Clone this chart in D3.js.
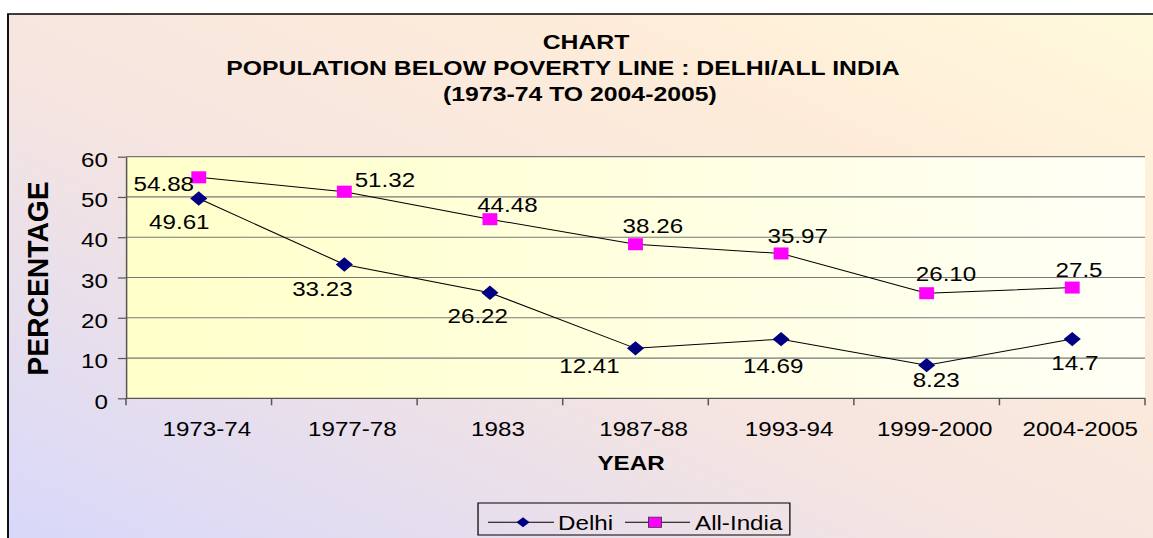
<!DOCTYPE html>
<html>
<head>
<meta charset="utf-8">
<style>
    body { margin: 0; background: #fff; }
    svg { display: block; }
    text { font-family: "Liberation Sans", Arial, sans-serif; fill: #000; }
    .title { font-size: 20px; font-weight: bold; text-anchor: middle; }
    .tick-label { font-size: 19.5px; }
    .data-label { font-size: 19.5px; text-anchor: middle; }
    .grid { stroke: #777; stroke-width: 1.2; }
    .axis-line { stroke: #555; stroke-width: 1.2; fill: none; }
    .series-line { fill: none; stroke: #000; stroke-width: 1; }
</style>
</head>
<body>
<script src="https://d3js.org/d3.v7.min.js"></script>
<div class="chart"></div>
<script>
// data
var years = ["1973-74", "1977-78", "1983", "1987-88", "1993-94", "1999-2000", "2004-2005"];
var delhi = [49.61, 33.23, 26.22, 12.41, 14.69, 8.23, 14.7];
var allIndia = [54.88, 51.32, 44.48, 38.26, 35.97, 26.10, 27.5];
var delhiText = ["49.61", "33.23", "26.22", "12.41", "14.69", "8.23", "14.7"];
var allIndiaText = ["54.88", "51.32", "44.48", "38.26", "35.97", "26.10", "27.5"];
var yTicks = [0, 10, 20, 30, 40, 50, 60];
var titleLines = ["CHART", "POPULATION BELOW POVERTY LINE : DELHI/ALL INDIA", "(1973-74 TO 2004-2005)"];

// where the hand-placed data labels sit relative to their markers
var delhiLabelShift = [[-15.7, 23.5], [-17.7, 24.5], [-9.8, 23.1], [-37.1, 17.5], [-6.4, 26.7], [7.7, 15], [2.1, 24.2]];
var allIndiaLabelShift = [[-28.2, 6.5], [32.7, -12], [14.1, -14], [14, -18], [13.4, -17.6], [15.6, -19], [5.5, -17.6]];

// the original picture is stretched sideways, so draw in narrower units and stretch
var sx = 1.24,
    outW = 1153, outH = 538,
    W = outW / sx;

var plot = {left: 101.6, right: 923.4, top: 156.7, bottom: 398.3};

var svg = d3.select(".chart").append("svg")
    .attr("width", outW)
    .attr("height", outH)
    .attr("viewBox", "0 0 " + W + " " + outH)
    .attr("preserveAspectRatio", "none");

var defs = svg.append("defs");
var bg = defs.append("linearGradient").attr("id", "bg")
    .attr("x1", 0).attr("y1", 1).attr("x2", 1).attr("y2", 0);
bg.append("stop").attr("offset", 0).attr("stop-color", "#d8d8fa");
bg.append("stop").attr("offset", 0.45).attr("stop-color", "#f6e5e0");
bg.append("stop").attr("offset", 0.75).attr("stop-color", "#feecd9");
bg.append("stop").attr("offset", 1).attr("stop-color", "#fffadc");

var pg = defs.append("linearGradient").attr("id", "plotbg")
    .attr("x1", 0).attr("y1", 0).attr("x2", 1).attr("y2", 0);
pg.append("stop").attr("offset", 0).attr("stop-color", "#ffffc9");
pg.append("stop").attr("offset", 1).attr("stop-color", "#fffff6");

// chart background + frame
var frameX = 6.45, frameY = 14;
svg.append("rect")
    .attr("x", frameX).attr("y", frameY)
    .attr("width", W - frameX).attr("height", outH - frameY)
    .attr("fill", "url(#bg)");
svg.append("path")
    .attr("d", "M" + frameX + "," + outH + "V" + frameY + "H" + W)
    .attr("fill", "none").attr("stroke", "#000").attr("stroke-width", 1.5);

var x = d3.scaleBand().domain(years).range([plot.left, plot.right]);
var y = d3.scaleLinear().domain([0, 60]).range([plot.bottom, plot.top]);

svg.append("rect")
    .attr("x", plot.left).attr("y", plot.top)
    .attr("width", plot.right - plot.left).attr("height", plot.bottom - plot.top)
    .attr("fill", "url(#plotbg)");

// gridlines
svg.selectAll(".grid")
    .data(yTicks.filter(function(d) { return d > 0; }))
    .enter().append("line")
    .attr("class", "grid")
    .attr("x1", plot.left).attr("x2", plot.right)
    .attr("y1", function(d) { return y(d); })
    .attr("y2", function(d) { return y(d); });

// y axis
var yAxis = svg.append("g")
    .attr("transform", "translate(" + plot.left + ",0)")
    .call(d3.axisLeft(y).tickValues(yTicks).tickSize(6.5).tickSizeOuter(0).tickPadding(8));
yAxis.select(".domain").attr("class", "axis-line");
yAxis.selectAll(".tick line").attr("stroke", "#555").attr("stroke-width", 1.2);
yAxis.selectAll(".tick text")
    .attr("class", "tick-label")
    .attr("font-family", null).attr("font-size", null)
    .attr("dy", "0.5em");

// x axis: ticks sit between categories
var bounds = d3.range(years.length + 1).map(function(i) { return plot.left + i * x.step(); });
svg.append("line")
    .attr("class", "axis-line")
    .attr("x1", plot.left).attr("x2", plot.right)
    .attr("y1", plot.bottom).attr("y2", plot.bottom);
svg.selectAll(".xtick")
    .data(bounds)
    .enter().append("line")
    .attr("class", "axis-line")
    .attr("x1", function(d) { return d; }).attr("x2", function(d) { return d; })
    .attr("y1", plot.bottom).attr("y2", plot.bottom + 7);
svg.selectAll(".xlabel")
    .data(years)
    .enter().append("text")
    .attr("class", "tick-label")
    .attr("text-anchor", "middle")
    .attr("x", function(d) { return x(d) + x.bandwidth() / 2 + 6.5; })
    .attr("y", 436)
    .text(function(d) { return d; });

// series lines
var line = d3.line()
    .x(function(d, i) { return x(years[i]) + x.bandwidth() / 2; })
    .y(function(d) { return y(d); });

svg.append("path").datum(allIndia).attr("class", "series-line").attr("d", line);
svg.append("path").datum(delhi).attr("class", "series-line").attr("d", line);

var diamond = "M0,-7.2L6.9,0L0,7.2L-6.9,0Z";

svg.selectAll(".sq")
    .data(allIndia)
    .enter().append("rect")
    .attr("x", function(d, i) { return x(years[i]) + x.bandwidth() / 2 - 6; })
    .attr("y", function(d) { return y(d) - 6; })
    .attr("width", 12).attr("height", 12)
    .attr("fill", "#ff00ff");

svg.selectAll(".dm")
    .data(delhi)
    .enter().append("path")
    .attr("d", diamond)
    .attr("transform", function(d, i) {
        return "translate(" + (x(years[i]) + x.bandwidth() / 2) + "," + y(d) + ")";
    })
    .attr("fill", "#000080");

// data labels
function labels(values, texts, shift) {
    svg.append("g").selectAll("text")
        .data(values)
        .enter().append("text")
        .attr("class", "data-label")
        .attr("x", function(d, i) { return x(years[i]) + x.bandwidth() / 2 + shift[i][0]; })
        .attr("y", function(d, i) { return y(d) + shift[i][1]; })
        .attr("dy", "0.36em")
        .text(function(d, i) { return texts[i]; });
}
labels(allIndia, allIndiaText, allIndiaLabelShift);
labels(delhi, delhiText, delhiLabelShift);

// titles
var titleX = [472.6, 454, 467.7], titleY = [49, 75, 101];
svg.selectAll(".title")
    .data(titleLines)
    .enter().append("text")
    .attr("class", "title")
    .attr("x", function(d, i) { return titleX[i]; })
    .attr("y", function(d, i) { return titleY[i]; })
    .text(function(d) { return d; });

svg.append("text")
    .attr("class", "title")
    .style("font-size", "19.5px")
    .attr("x", 508.9).attr("y", 470)
    .text("YEAR");

svg.append("text")
    .attr("class", "title")
    .style("font-size", "23.6px")
    .attr("transform", "translate(30.2,278.5) rotate(-90) scale(1.2,1)")
    .attr("dy", "0.36em")
    .text("PERCENTAGE");

// legend
var leg = svg.append("g");
leg.append("rect")
    .attr("x", 385.5).attr("y", 503).attr("width", 251.5).attr("height", 32)
    .attr("fill", "none").attr("stroke", "#000").attr("stroke-width", 1);
leg.append("line").attr("class", "series-line")
    .attr("x1", 393.5).attr("x2", 446.8).attr("y1", 522.3).attr("y2", 522.3);
leg.append("path").attr("d", "M0,-5L5.3,0L0,5L-5.3,0Z")
    .attr("transform", "translate(421.8,522.3)").attr("fill", "#000080");
leg.append("text").attr("class", "tick-label").attr("x", 450).attr("y", 530).text("Delhi");
leg.append("line").attr("class", "series-line")
    .attr("x1", 504).attr("x2", 556.5).attr("y1", 522.3).attr("y2", 522.3);
leg.append("rect")
    .attr("x", 528.2 - 5.2).attr("y", 522.3 - 5.2).attr("width", 10.4).attr("height", 10.4)
    .attr("fill", "#ff00ff").attr("stroke", "#333").attr("stroke-width", 0.7);
leg.append("text").attr("class", "tick-label").attr("x", 560.5).attr("y", 530).text("All-India");
</script>
</body>
</html>
